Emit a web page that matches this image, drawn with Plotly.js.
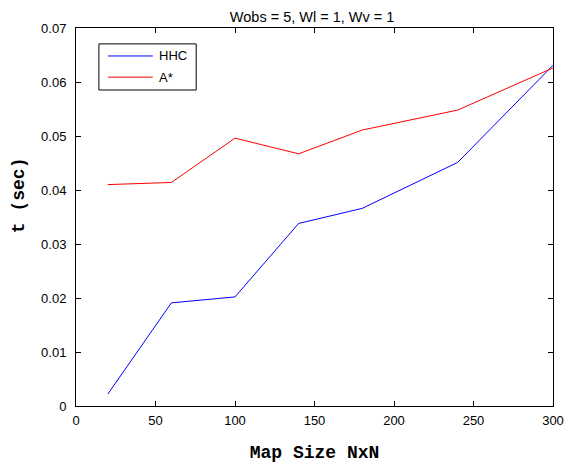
<!DOCTYPE html>
<html>
<head>
<meta charset="utf-8">
<script src="https://cdn.plot.ly/plotly-3.0.1.min.js"></script>
<style>
  html, body { margin: 0; padding: 0; background: #fff; }
  #chart { width: 584px; height: 465px; }
</style>
</head>
<body>
<div id="chart"></div>
<script>
// Map sizes (N for an NxN grid)
const mapSizes = [20, 60, 100, 140, 180, 240, 300];
// Planning time in seconds
const hhcTimes = [0.0022, 0.0191, 0.0202, 0.0338, 0.0366, 0.0451, 0.0631];
const aStarTimes = [0.0410, 0.0414, 0.0496, 0.0467, 0.0511, 0.0548, 0.0626];
const seriesNames = ['HHC', 'A*'];
const seriesColors = ['#0000ff', '#ff0000'];

const xTicks = [0, 50, 100, 150, 200, 250, 300];
const yTicks = [0, 0.01, 0.02, 0.03, 0.04, 0.05, 0.06, 0.07];

const sansFont = 'Liberation Sans, Arial, sans-serif';
const monoFont = 'Liberation Mono, Courier New, monospace';

const traces = [hhcTimes, aStarTimes].map((ys, i) => ({
  x: mapSizes, y: ys, name: seriesNames[i], type: 'scatter', mode: 'lines',
  line: { color: seriesColors[i], width: 1 }, showlegend: false
}));

// Boxed legend in the upper-left corner of the axes (paper coordinates)
const legendBox = { x0: 0.048, x1: 0.252, y0: 0.836, y1: 0.958 };
const legendRows = [0.926, 0.870];
const legendLine = { x0: 0.067, x1: 0.161 };
const legendTextX = 0.170;

const shapes = [{
  type: 'rect', xref: 'paper', yref: 'paper',
  x0: legendBox.x0, x1: legendBox.x1, y0: legendBox.y0, y1: legendBox.y1,
  line: { color: '#000', width: 1 }, fillcolor: '#fff', layer: 'above'
}];
const annotations = [];
seriesNames.forEach((name, i) => {
  shapes.push({
    type: 'line', xref: 'paper', yref: 'paper',
    x0: legendLine.x0, x1: legendLine.x1, y0: legendRows[i], y1: legendRows[i],
    line: { color: seriesColors[i], width: 1 }, layer: 'above'
  });
  annotations.push({
    xref: 'paper', yref: 'paper', x: legendTextX, y: legendRows[i],
    xanchor: 'left', yanchor: 'middle', showarrow: false, text: name,
    font: { family: sansFont, size: 13, color: '#000' }
  });
});

// Vertical y-axis label
annotations.push({
  xref: 'paper', yref: 'paper', x: -0.118, y: 0.557,
  xanchor: 'center', yanchor: 'middle', showarrow: false, textangle: -90,
  text: 't (sec)',
  font: { family: monoFont, size: 18, color: '#000', weight: 'bold' }
});

const axisCommon = {
  showgrid: false, zeroline: false, showline: true, linecolor: '#000', linewidth: 1,
  mirror: 'ticks', ticks: 'inside', ticklen: 5, tickcolor: '#000',
  tickfont: { family: sansFont, size: 13, color: '#000' }
};

const layout = {
  width: 584, height: 465,
  margin: { l: 76, r: 31, t: 28, b: 59 },
  paper_bgcolor: '#fff', plot_bgcolor: '#fff',
  title: { text: 'Wobs = 5, Wl = 1, Wv = 1', x: 0.495, xanchor: 'center', y: 0.963, yanchor: 'middle',
    xref: 'paper',
    font: { family: sansFont, size: 14.5, color: '#000' } },
  xaxis: Object.assign({}, axisCommon, {
    range: [0, 300], tickvals: xTicks, ticktext: xTicks.map(String),
    ticklabelstandoff: 2,
    title: { text: 'Map Size NxN', standoff: 18,
      font: { family: monoFont, size: 18, color: '#000', weight: 'bold' } }
  }),
  yaxis: Object.assign({}, axisCommon, {
    range: [0, 0.07], tickvals: yTicks, ticktext: yTicks.map(v => String(v)),
    ticklabelstandoff: 6
  }),
  shapes: shapes,
  annotations: annotations,
  showlegend: false
};

Plotly.newPlot('chart', traces, layout, { displayModeBar: false, staticPlot: true });
</script>
</body>
</html>
